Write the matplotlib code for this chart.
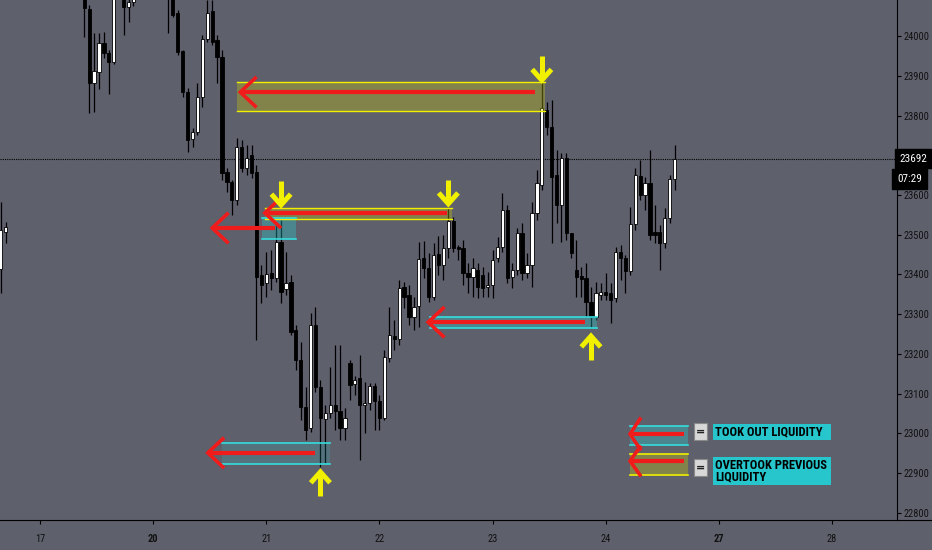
import numpy as np
import matplotlib
matplotlib.use("Agg")
from matplotlib import pyplot as plt
from matplotlib.patches import Rectangle
from matplotlib.lines import Line2D

# hourly bars, position = bar number counted from the "17" day tick
bar_idx = [-8, -7, 9, 10, 11, 12, 13, 14, 15, 17, 18, 19, 26, 27, 28, 29, 30, 31, 32, 33,
           34, 35, 36, 37, 38, 39, 40, 41, 42, 43, 44, 45, 46, 47, 48, 49, 50, 51, 52, 53,
           54, 55, 56, 57, 58, 59, 60, 61, 62, 63, 64, 65, 66, 67, 68, 69, 70, 71, 72, 73,
           74, 75, 76, 77, 78, 79, 80, 81, 82, 83, 84, 85, 86, 87, 88, 89, 90, 91, 92, 93,
           94, 95, 96, 97, 98, 99, 100, 101, 102, 103, 104, 105, 106, 107, 108, 109, 110, 111, 112, 113,
           114, 115, 116, 117, 118, 119, 120, 121, 122, 123, 124, 125, 126, 127, 128, 129]
opens = [23414, 23507, 24105, 24068, 23882, 23909, 23982, 23957, 23935, 24110, 24073, 24085, 24110, 24100, 24058, 23962, 23859, 23741, 23758, 23847,
         23992, 24063, 23990, 23947, 23658, 23633, 23587, 23721, 23668, 23700, 23658, 23399, 23379, 23404, 23391, 23482, 23364, 23381, 23260, 23185,
         23067, 23014, 23273, 23117, 23037, 23052, 23072, 23057, 23014, 23178, 23125, 23140, 23072, 23077, 23119, 23082, 23039, 23190, 23245, 23238,
         23369, 23348, 23293, 23321, 23441, 23416, 23343, 23451, 23424, 23467, 23535, 23470, 23467, 23404, 23394, 23411, 23399, 23369, 23374, 23442,
         23469, 23562, 23394, 23411, 23504, 23404, 23424, 23555, 23625, 23814, 23771, 23650, 23575, 23693, 23504, 23411, 23396, 23391, 23331, 23293,
         23349, 23356, 23354, 23341, 23456, 23442, 23409, 23527, 23648, 23600, 23630, 23507, 23507, 23479, 23542, 23640]
highs = [23582, 23532, 24125, 24078, 24008, 24008, 24010, 23965, 24130, 24130, 24100, 24110, 24125, 24120, 24065, 23965, 23869, 23769, 23882, 24003,
         24090, 24090, 24002, 23965, 23668, 23638, 23743, 23738, 23726, 23726, 23675, 23424, 23456, 23462, 23524, 23537, 23456, 23399, 23273, 23230,
         23117, 23303, 23318, 23135, 23072, 23167, 23223, 23223, 23064, 23185, 23145, 23197, 23130, 23127, 23127, 23097, 23210, 23318, 23286, 23386,
         23381, 23374, 23343, 23482, 23484, 23454, 23479, 23497, 23499, 23567, 23545, 23474, 23487, 23429, 23442, 23429, 23419, 23406, 23462, 23494,
         23605, 23575, 23429, 23517, 23529, 23454, 23582, 23663, 23884, 23834, 23839, 23713, 23706, 23706, 23504, 23487, 23419, 23429, 23368, 23381,
         23378, 23404, 23378, 23469, 23474, 23449, 23570, 23668, 23688, 23645, 23713, 23575, 23525, 23567, 23650, 23726]
lows = [23353, 23479, 23998, 23806, 23809, 23867, 23945, 23854, 23930, 24002, 24035, 24075, 24008, 24048, 23952, 23847, 23708, 23721, 23751, 23821,
        23985, 23977, 23882, 23638, 23608, 23550, 23575, 23658, 23650, 23643, 23235, 23328, 23343, 23361, 23381, 23328, 23348, 23248, 23160, 23034,
        22984, 23004, 23104, 22916, 22926, 23039, 23009, 22984, 22984, 23084, 23097, 22933, 23001, 23059, 23009, 23009, 23034, 23180, 23210, 23223,
        23316, 23273, 23260, 23268, 23391, 23331, 23336, 23399, 23386, 23442, 23456, 23436, 23374, 23353, 23343, 23341, 23343, 23343, 23341, 23432,
        23456, 23379, 23366, 23399, 23386, 23391, 23369, 23537, 23613, 23751, 23479, 23529, 23482, 23487, 23442, 23343, 23343, 23293, 23265, 23286,
        23336, 23336, 23278, 23331, 23386, 23353, 23399, 23512, 23587, 23562, 23487, 23479, 23412, 23467, 23530, 23613]
closes = [23512, 23520, 24070, 23882, 23912, 23982, 23957, 23935, 24110, 24073, 24085, 24100, 24100, 24053, 23960, 23859, 23738, 23758, 23847, 23992,
          24058, 23985, 23947, 23655, 23633, 23587, 23721, 23668, 23693, 23655, 23394, 23374, 23401, 23391, 23482, 23356, 23379, 23255, 23185, 23067,
          23009, 23273, 23117, 23039, 23052, 23072, 23057, 23014, 23039, 23122, 23135, 23072, 23077, 23119, 23082, 23039, 23193, 23248, 23238, 23366,
          23343, 23293, 23318, 23439, 23416, 23343, 23449, 23424, 23467, 23535, 23467, 23464, 23404, 23394, 23416, 23369, 23366, 23374, 23436, 23469,
          23562, 23391, 23411, 23504, 23404, 23424, 23555, 23630, 23819, 23771, 23645, 23575, 23693, 23504, 23454, 23394, 23389, 23331, 23293, 23353,
          23356, 23349, 23336, 23456, 23442, 23409, 23527, 23650, 23600, 23630, 23499, 23499, 23479, 23542, 23640, 23692]

day_pos = [0, 23, 46, 69, 92, 115, 138, 161]
day_labels = ["17", "20", "21", "22", "23", "24", "27", "28"]
bold_days = ["20", "27"]
price_ticks = list(range(22800, 24001, 100))
hidden_tick = 23700          # covered by the last-price tag
last_price = 23692
timer_text = "07:29"

# zones: (first bar, last bar, low price, high price)
yellow_zones = [(40.0, 102.6, 23811, 23884), (45.7, 83.7, 23540, 23567)]
cyan_zones = [(45.1, 52.0, 23489, 23542, 0.30), (37.0, 58.9, 22923, 22977, 0.15), (79.3, 113.2, 23265, 23293, 0.30)]
# red arrows: (tip bar, tail bar, price)
red_arrows = [(40.7, 100.6, 23859), (45.7, 82.7, 23555), (35.0, 47.8, 23517), (34.1, 55.9, 22951), (78.9, 110.8, 23280)]
# yellow arrows: (bar, tip price, direction)
yellow_arrows = [(102, 23889, "down"), (49, 23575, "down"), (83, 23578, "down"), (112, 23245, "up"), (57, 22903, "up")]

BG = "#5e606c"
RED = "#f01c1c"
YEL = "#f0f000"
CYAN = "#35dede"
NARROW = ["Liberation Sans Narrow", "Roboto Condensed", "Liberation Sans"]

W, H = 932, 550
fig = plt.figure(figsize=(W / 100, H / 100), dpi=100)
fig.patch.set_facecolor(BG)
ax = fig.add_axes([0, 30 / H, 897 / W, 520 / H])
ax.set_facecolor(BG)

xmin, xmax = -8.13, 174.2
ymin, ymax = 22782, 24091
ax.set_xlim(xmin, xmax)
ax.set_ylim(ymin, ymax)
bar_px = 897 / (xmax - xmin)
px_price = (ymax - ymin) / 520

# candles
for k, o, h, l, c in zip(bar_idx, opens, highs, lows, closes):
    ax.plot([k, k], [l, h], color="black", lw=0.9, zorder=2, solid_capstyle="butt")
    up = c >= o
    ax.add_patch(Rectangle((k - 0.33, min(o, c)), 0.66, max(abs(c - o), 2.5),
                           facecolor="white" if up else "black", edgecolor="black",
                           lw=0.6, zorder=3))

# zones
for x0, x1, y0, y1 in yellow_zones:
    ax.add_patch(Rectangle((x0, y0), x1 - x0, y1 - y0, facecolor="#d6d600", alpha=0.3,
                           edgecolor="none", zorder=4))
    ax.plot([x0, x1], [y0, y0], color=YEL, lw=1.0, zorder=5)
    ax.plot([x0, x1], [y1, y1], color=YEL, lw=1.0, zorder=5)
for x0, x1, y0, y1, a in cyan_zones:
    ax.add_patch(Rectangle((x0, y0), x1 - x0, y1 - y0, facecolor="#20e0e0", alpha=a,
                           edgecolor="none", zorder=4))
    ax.plot([x0, x1], [y0, y0], color=CYAN, lw=1.2, zorder=5)
    ax.plot([x0, x1], [y1, y1], color=CYAN, lw=1.2, zorder=5)

def red_arrow(tip, tail, y, head=15, half=14):
    dx = head / bar_px
    dy = half * px_price
    ax.plot([tail, tip], [y, y], color=RED, lw=3, solid_capstyle="butt", zorder=6)
    ax.plot([tip + dx, tip, tip + dx], [y + dy, y, y - dy], color=RED, lw=2.6,
            solid_joinstyle="miter", zorder=6)

for tip, tail, y in red_arrows:
    red_arrow(tip, tail, y)

def yellow_arrow(k, y_tip, direction, length=24, head=9, half=8):
    s = 1 if direction == "down" else -1
    y_end = y_tip + s * length * px_price
    y_head = y_tip + s * head * px_price
    dx = half / bar_px
    ax.plot([k, k], [y_tip + s * 2 * px_price, y_end], color=YEL, lw=3.6,
            solid_capstyle="butt", zorder=7)
    ax.plot([k - dx, k, k + dx], [y_head, y_tip, y_head], color=YEL, lw=3.6,
            solid_joinstyle="miter", zorder=7)

for k, y, d in yellow_arrows:
    yellow_arrow(k, y, d)

# last price line and labels
ax.axhline(last_price, color="black", lw=0.8, ls=(0, (1, 1)), zorder=1)
ytrans = ax.get_yaxis_transform()
ax.text(1.003, last_price, str(last_price), transform=ytrans, color="white", fontsize=8,
        va="center", ha="left", family=NARROW,
        bbox=dict(boxstyle="square,pad=0.4", fc="black", ec="black"), zorder=10, clip_on=False)
ax.text(1.0, last_price - 20 * px_price, timer_text, transform=ytrans, color="white",
        fontsize=8, va="center", ha="left", family=NARROW,
        bbox=dict(boxstyle="square,pad=0.45", fc="black", ec="black"), zorder=10, clip_on=False)

# axes styling
for s in ["top", "left"]:
    ax.spines[s].set_visible(False)
ax.spines["right"].set_color("black")
ax.spines["bottom"].set_color("black")
ax.yaxis.tick_right()
ax.set_yticks(price_ticks)
ax.set_yticklabels(["" if p == hidden_tick else str(p) for p in price_ticks])
ax.set_xticks(day_pos)
ax.set_xticklabels(day_labels)
ax.tick_params(axis="both", length=3, width=0.8, colors="black", labelsize=7.5)
ax.tick_params(axis="y", pad=2)
ax.tick_params(axis="x", pad=7)
for lab in ax.get_xticklabels() + ax.get_yticklabels():
    lab.set_family(NARROW)
    lab.set_color("#111111")
for lab in ax.get_xticklabels():
    if lab.get_text() in bold_days:
        lab.set_fontweight("bold")
fig.add_artist(Line2D([897 / W, 1], [30 / H, 30 / H], color="black", lw=0.8))

# legend (pixel layout)
def fx(x):
    return x / W

def fy(y):
    return 1 - y / H

def legend_zone(y0, y1, fill, alpha, line):
    fig.add_artist(Rectangle((fx(630), fy(y1)), fx(688) - fx(630), fy(y0) - fy(y1),
                             transform=fig.transFigure, facecolor=fill, alpha=alpha, edgecolor="none"))
    for y in (y0, y1):
        fig.add_artist(Line2D([fx(630), fx(688)], [fy(y), fy(y)], color=line, lw=1.2))

def legend_arrow(y, tip=630, tail=684, head=10, half=15):
    fig.add_artist(Line2D([fx(tail), fx(tip)], [fy(y), fy(y)], color=RED, lw=3, solid_capstyle="butt"))
    fig.add_artist(Line2D([fx(tip + head), fx(tip), fx(tip + head)], [fy(y - half), fy(y), fy(y + half)],
                          color=RED, lw=2.6, solid_joinstyle="miter"))

legend_zone(426, 445, "#20e0e0", 0.30, CYAN)
legend_arrow(434)
legend_zone(454, 475, "#d6d600", 0.30, YEL)
legend_arrow(461, half=14)

legend_items = [("TOOK OUT LIQUIDITY", 423, 440, 424, 440), ("OVERTOOK PREVIOUS\nLIQUIDITY", 459, 476, 457, 485)]
for txt, ey0, ey1, ty0, ty1 in legend_items:
    fig.add_artist(Rectangle((fx(694), fy(ey1)), fx(707) - fx(694), fy(ey0) - fy(ey1),
                             transform=fig.transFigure, facecolor="#d8d8d8", edgecolor="#8a8a8a", lw=0.8))
    fig.text(fx(700.5), fy((ey0 + ey1) / 2), "=", ha="center", va="center", fontsize=8,
             fontweight="bold", color="#222222")
    fig.add_artist(Rectangle((fx(713), fy(ty1)), fx(831) - fx(713), fy(ty0) - fy(ty1),
                             transform=fig.transFigure, facecolor="#26c6cc", edgecolor="none"))
    fig.text(fx(715), fy((ty0 + ty1) / 2), txt, ha="left", va="center", fontsize=9,
             fontweight="bold", color="black", linespacing=0.85, family=NARROW)

fig.savefig("out.png", dpi=100, facecolor=BG)
